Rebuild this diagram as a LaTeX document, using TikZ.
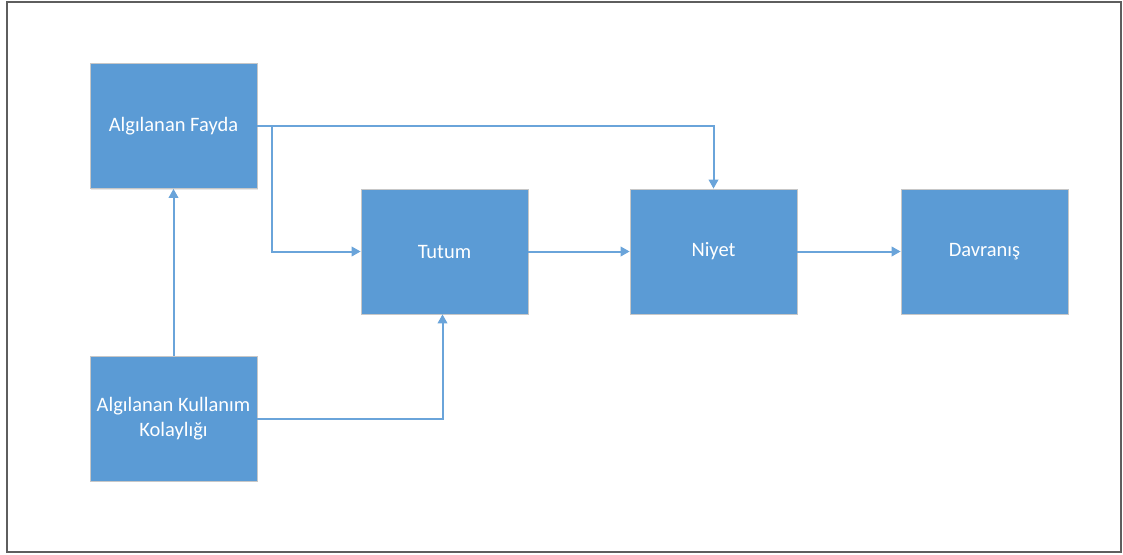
\documentclass[tikz,border=0pt]{standalone}
\usepackage{fontspec}
\setmainfont{Carlito}
\usetikzlibrary{arrows.meta,shadows}
\definecolor{boxblue}{HTML}{5B9BD5}
\definecolor{linkblue}{HTML}{6AA4DA}
\definecolor{framegray}{HTML}{5E5E5E}
\tikzset{
  block/.style={rectangle, fill=boxblue, draw=black!22, line width=0.7pt,
    minimum width=167pt, minimum height=125pt, inner sep=0pt,
    text=white, font=\fontsize{20.5}{24.5}\selectfont, align=center,
    drop shadow={shadow xshift=0.8pt, shadow yshift=-1.2pt, opacity=0.18}},
  link/.style={draw=linkblue, line width=2pt,
    -{Triangle[length=9pt,width=9.5pt]}}
}
\begin{document}
\begin{tikzpicture}[x=1pt,y=-1pt]
  \useasboundingbox (0,0) rectangle (1123,554);
  % outer frame
  \draw[framegray, line width=2pt] (7,1.5) rectangle (1120.5,552);

  % blocks
  \node[block] (fayda)    at (173.5,126)   {Algılanan Fayda};
  \node[block] (tutum)    at (444.5,251.5) {Tutum};
  \node[block] (niyet)    at (713.5,251.5) {Niyet};
  \node[block] (davranis) at (984.5,251.5) {Davranış};
  \node[block] (kolay)    at (173.5,418.5) {Algılanan Kullanım\\Kolaylığı};

  % connectors
  \draw[link] (fayda.east) -| (niyet.north);
  \draw[link] (fayda.east) -- ++(14.5,0) |- (tutum.west);
  \draw[link] (kolay.north) -- (fayda.south);
  \draw[link] (kolay.east) -| ([xshift=-2pt]tutum.south);
  \draw[link] (tutum.east) -- (niyet.west);
  \draw[link] (niyet.east) -- (davranis.west);
\end{tikzpicture}
\end{document}
